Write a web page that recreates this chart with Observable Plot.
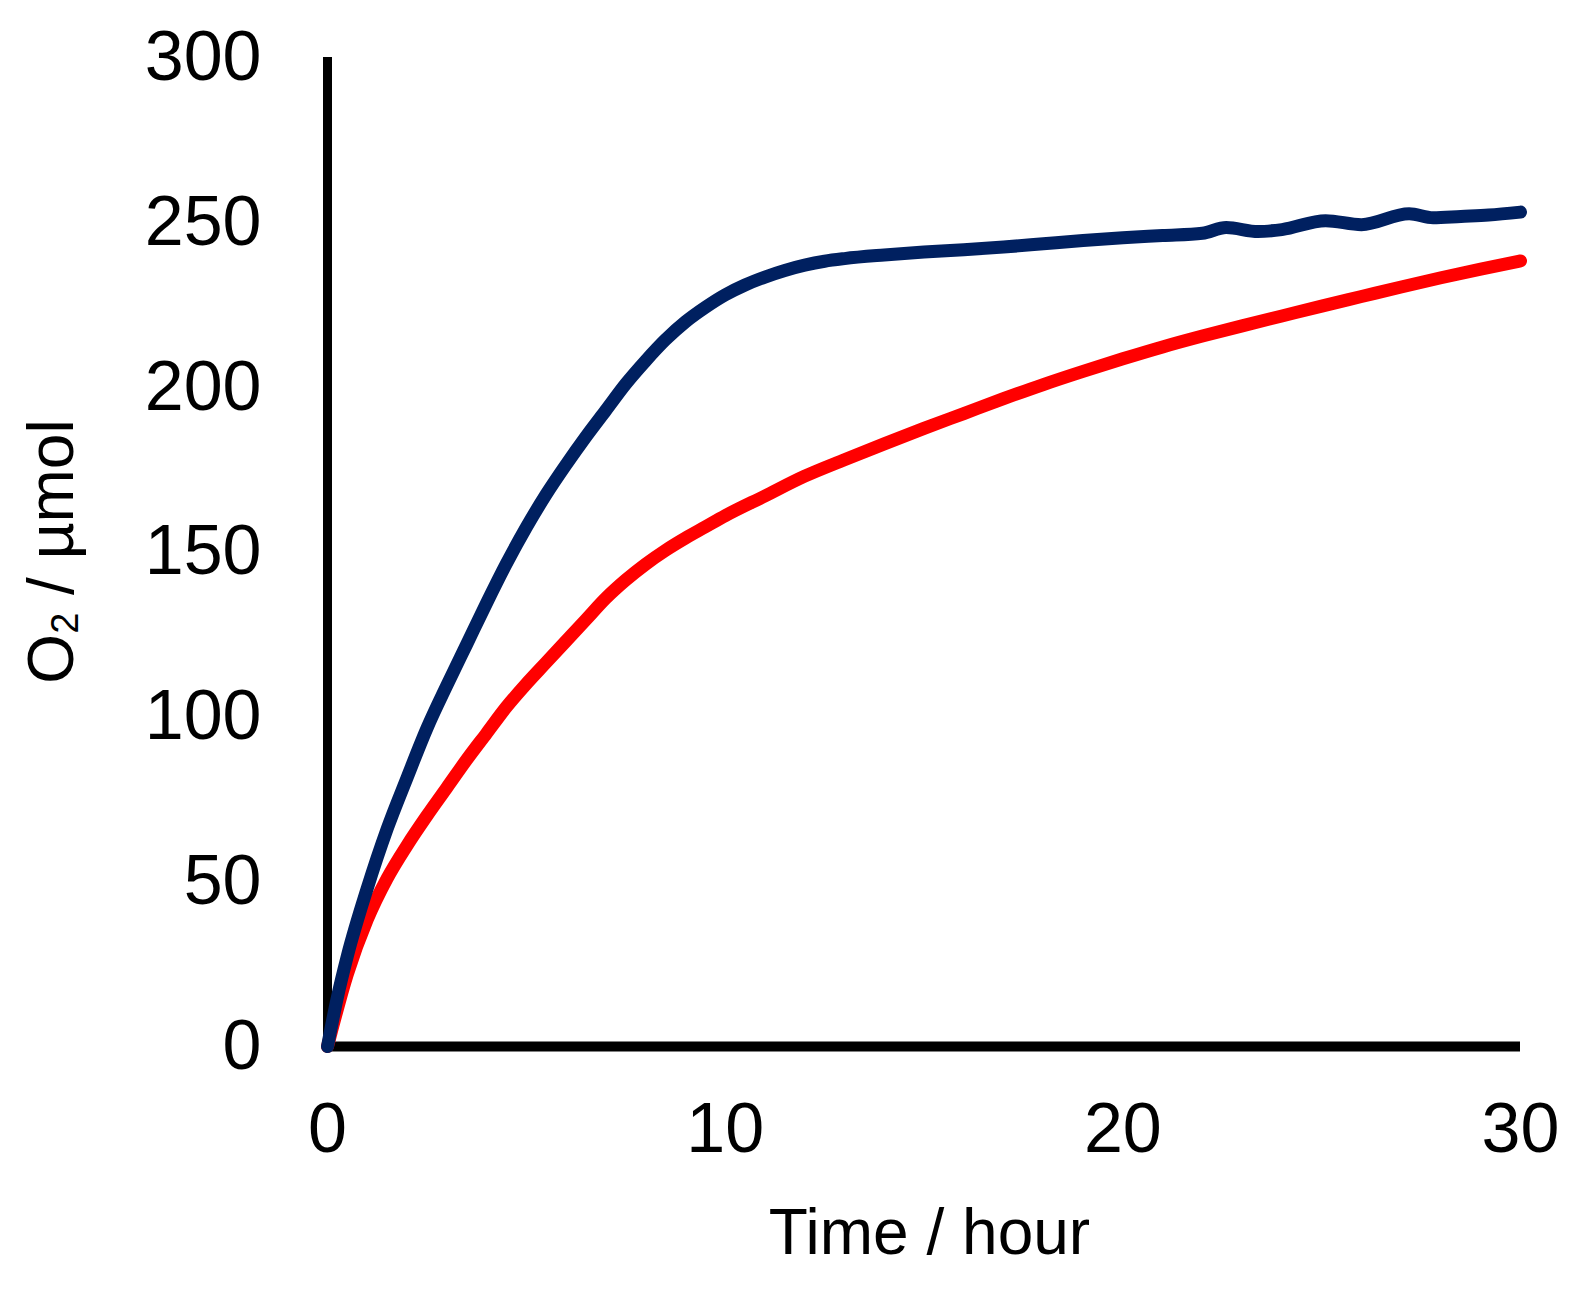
<!DOCTYPE html>
<html><head><meta charset="utf-8">
<script src="https://cdn.jsdelivr.net/npm/d3@7"></script>
<script src="https://cdn.jsdelivr.net/npm/@observablehq/plot@0.6"></script>
<style>html,body{margin:0;padding:0;background:#fff}</style>
</head><body><div id="chart"></div>
<script>
// ---- data ----
const xTicks = [0, 10, 20, 30];
const yTicks = [0, 50, 100, 150, 200, 250, 300];
const xTitle = "Time / hour";
const yTitleMain = "O";
const yTitleSub = "2";
const yTitleRest = " / µmol";

const navyTime = [0, 0.25, 0.5, 1, 1.5, 2, 2.5, 3, 3.5, 4, 4.5, 5, 5.5, 6, 6.5, 7, 7.5, 8, 8.5, 9, 9.5, 10, 10.5, 11, 11.5, 12, 12.5, 13, 14, 15, 16, 17, 18, 19, 20, 21, 22, 22.6, 23.4, 24, 25.1, 26, 27.2, 27.8, 28.5, 29.2, 30];
const navyO2   = [0, 15, 27.5, 48, 66, 81.5, 96.5, 109.5, 122, 134.5, 146.5, 157.5, 167.5, 176.5, 185, 193, 201, 208, 214.4, 219.8, 224.2, 228, 231, 233.4, 235.4, 237, 238.2, 239, 240.1, 241, 241.7, 242.5, 243.5, 244.5, 245.3, 246, 246.7, 248.4, 247.2, 247.8, 250.5, 249.3, 252.6, 251.4, 251.8, 252.2, 253.1];

const redTime = [0, 0.5, 1, 1.5, 2, 2.5, 3, 3.5, 4, 4.5, 5, 5.5, 6, 6.5, 7, 7.5, 8, 8.5, 9, 9.5, 10, 11, 12, 13, 14, 15, 16, 17, 18, 19, 20, 21, 22, 23, 24, 25, 26, 27, 28, 29, 30];
const redO2   = [0, 22, 38.5, 51, 61, 70, 78.5, 87, 95, 103, 110, 116.5, 123, 129.5, 136, 141.5, 146.3, 150.5, 154.2, 157.6, 161, 167, 173, 178, 182.8, 187.5, 192, 196.5, 200.8, 204.8, 208.6, 212.2, 215.5, 218.6, 221.6, 224.6, 227.5, 230.4, 233.2, 235.8, 238.3];

const navy = navyTime.map((t, i) => ({t, v: navyO2[i]}));
const red = redTime.map((t, i) => ({t, v: redO2[i]}));

// ---- chart ----
const W = 1582, H = 1291;
const font = "'Liberation Sans', Arial, sans-serif";
const plot = Plot.plot({
  width: W, height: H,
  marginLeft: 327, marginRight: 62, marginTop: 57, marginBottom: 245,
  style: {fontFamily: font, fontSize: "70px", background: "#fff", color: "#000"},
  x: {domain: [0, 30]},
  y: {domain: [0, 300]},
  marks: [
    Plot.axisX({ticks: xTicks, tickSize: 0, tickPadding: 56, label: null, fontSize: 70}),
    Plot.axisY({ticks: yTicks, tickSize: 0, tickPadding: 66, label: null, fontSize: 70}),
    Plot.ruleX([0], {stroke: "#000", strokeWidth: 9}),
    Plot.ruleY([0], {stroke: "#000", strokeWidth: 10}),
    Plot.line(red, {x: "t", y: "v", stroke: "#FF0000", strokeWidth: 13, curve: "monotone-x"}),
    Plot.line(navy, {x: "t", y: "v", stroke: "#002060", strokeWidth: 13, curve: "monotone-x"})
  ]
});
document.getElementById("chart").appendChild(plot);

const svg = d3.select(plot);
const xs = plot.scale("x"), ys = plot.scale("y");
svg.append("text")
  .attr("x", xs.apply(15) + 6).attr("y", 1254)
  .attr("text-anchor", "middle").attr("font-size", 64).attr("font-family", font).attr("fill", "#000")
  .text(xTitle);
const yc = (ys.apply(0) + ys.apply(300)) / 2;
const yt = svg.append("text")
  .attr("transform", `translate(73,${yc}) rotate(-90)`)
  .attr("text-anchor", "middle").attr("font-size", 64).attr("font-family", font).attr("fill", "#000");
yt.append("tspan").text(yTitleMain);
yt.append("tspan").attr("font-size", 38).attr("dy", 5).text(yTitleSub);
yt.append("tspan").attr("dy", -5).text(yTitleRest);
</script>
</body></html>
